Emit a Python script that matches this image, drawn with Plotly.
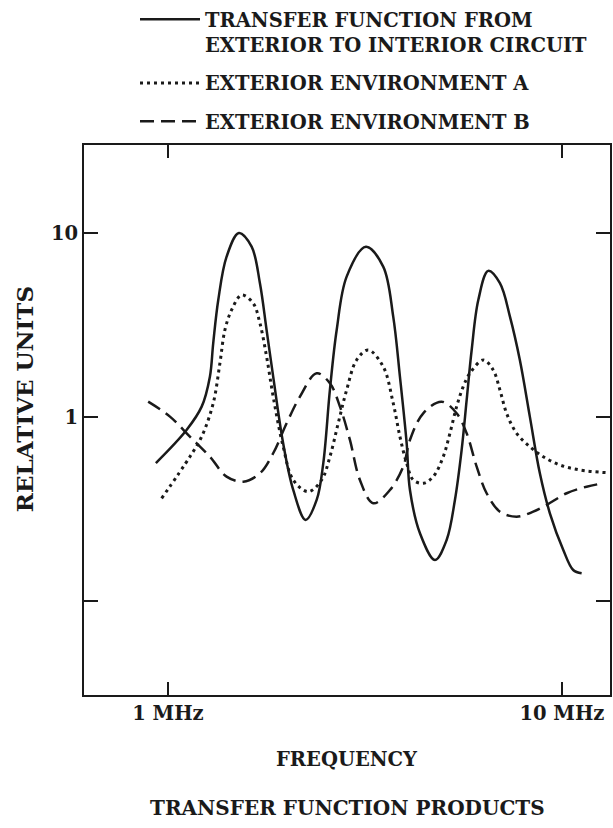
import plotly.graph_objects as go

# Frequency (MHz) and relative-unit values
transfer_f = [0.932, 1.115, 1.218, 1.278, 1.303, 1.342, 1.409, 1.514, 1.631, 1.712, 1.780,
              1.850, 1.961, 2.080, 2.236, 2.385, 2.479, 2.577, 2.681, 2.842, 3.181, 3.519,
              3.731, 3.880, 4.036, 4.114, 4.362, 4.762, 5.098, 5.351, 5.565, 5.731, 5.901,
              6.134, 6.50, 6.96, 7.38, 7.82, 8.29, 8.79, 9.32, 10.08, 10.68, 11.22]
transfer_v = [0.562, 0.850, 1.138, 1.656, 2.515, 4.32, 7.43, 10.0, 8.42, 5.33, 2.97,
              1.656, 0.719, 0.401, 0.2756, 0.354, 0.560, 1.402, 2.97, 5.79, 8.42, 6.56,
              3.51, 1.656, 0.719, 0.401, 0.2333, 0.167, 0.2146, 0.354, 0.662, 1.237, 2.312,
              4.32, 6.22, 5.33, 3.51, 2.04, 1.004, 0.494, 0.2997, 0.1893, 0.1474, 0.1414]

env_a_f = [0.964, 1.137, 1.218, 1.303, 1.355, 1.395, 1.451, 1.538, 1.646, 1.712, 1.780,
           1.850, 1.961, 2.080, 2.270, 2.455, 2.577, 2.705, 2.842, 3.012, 3.224, 3.519,
           3.731, 3.880, 4.036, 4.194, 4.446, 4.714, 4.997, 5.196, 5.404, 5.617, 5.841,
           6.316, 6.693, 6.96, 7.237, 7.674, 8.29, 8.966, 9.885, 11.11, 12.99]
env_a_v = [0.3615, 0.608, 0.782, 1.187, 1.958, 2.97, 3.815, 4.60, 4.15, 3.23, 2.127,
           1.289, 0.690, 0.4545, 0.3926, 0.4545, 0.608, 0.924, 1.402, 2.04, 2.312, 1.876,
           1.187, 0.782, 0.560, 0.4545, 0.436, 0.474, 0.608, 0.815, 1.138, 1.462, 1.728,
           2.04, 1.800, 1.402, 1.047, 0.815, 0.690, 0.608, 0.548, 0.515, 0.498]

env_b_f = [0.891, 1.012, 1.137, 1.278, 1.409, 1.553, 1.712, 1.850, 2.001, 2.163, 2.385,
           2.577, 2.733, 2.897, 3.071, 3.319, 3.660, 3.956, 4.114, 4.446, 4.951, 5.404,
           5.731, 6.076, 6.44, 6.96, 7.674, 8.457, 9.146, 10.28, 11.55, 12.73]
env_b_v = [1.211, 1.004, 0.782, 0.608, 0.474, 0.445, 0.494, 0.635, 0.924, 1.289, 1.728,
           1.525, 1.138, 0.750, 0.4545, 0.3396, 0.401, 0.537, 0.750, 1.047, 1.211, 1.047,
           0.815, 0.537, 0.385, 0.3057, 0.2872, 0.3057, 0.3325, 0.385, 0.418, 0.436]

x_tickvals = [1, 10]
x_ticktext = ["1 MHz", "10 MHz"]
y_tickvals = [0.1, 1, 10]
y_ticktext = ["", "1", "10"]

names = ["TRANSFER FUNCTION FROM<br>EXTERIOR TO INTERIOR CIRCUIT",
         "EXTERIOR ENVIRONMENT A",
         "EXTERIOR ENVIRONMENT B"]

FONT = "DejaVu Serif"
INK = "#1a1a1a"
FS = 19.5

fig = go.Figure()
fig.add_trace(go.Scatter(x=transfer_f, y=transfer_v, mode="lines", name=names[0],
                         legendgroup="a",
                         line=dict(color=INK, width=2.5, shape="spline", smoothing=1.0)))
fig.add_trace(go.Scatter(x=env_a_f, y=env_a_v, mode="lines", name=names[1],
                         legendgroup="b",
                         line=dict(color=INK, width=3, dash="3px,4px", shape="spline", smoothing=1.0)))
fig.add_trace(go.Scatter(x=env_b_f, y=env_b_v, mode="lines", name=names[2],
                         legendgroup="c",
                         line=dict(color=INK, width=2.5, dash="14px,7px", shape="spline", smoothing=1.0)))

fig.update_layout(
    width=613, height=828,
    margin=dict(l=84, r=3, t=145, b=133, autoexpand=False),
    paper_bgcolor="white", plot_bgcolor="white",
    font=dict(family=FONT, size=FS, color=INK, weight="bold"),
    showlegend=True,
    legend=dict(xref="container", yref="container", x=135 / 613, y=1 - 0 / 828,
                xanchor="left", yanchor="top", valign="top",
                traceorder="grouped", tracegroupgap=10, itemwidth=60,
                bgcolor="rgba(0,0,0,0)", font=dict(family=FONT, size=FS, color=INK, weight="bold")),
    xaxis=dict(type="log", range=[-0.213, 1.122], tickvals=x_tickvals, ticktext=x_ticktext,
               ticks="inside", ticklen=13, tickwidth=2, tickcolor=INK,
               showline=True, linewidth=2, linecolor=INK, mirror="ticks",
               showgrid=False, zeroline=False,
               tickfont=dict(family=FONT, size=FS, color=INK, weight="bold")),
    yaxis=dict(type="log", range=[-1.511, 1.478], tickvals=y_tickvals, ticktext=y_ticktext,
               ticks="inside", ticklen=14, tickwidth=2, tickcolor=INK,
               showline=True, linewidth=2, linecolor=INK, mirror="ticks",
               showgrid=False, zeroline=False,
               tickfont=dict(family=FONT, size=FS, color=INK, weight="bold")),
    annotations=[
        dict(text="RELATIVE UNITS", textangle=-90, xref="paper", yref="paper",
             x=-0.114, y=0.538, xanchor="center", yanchor="middle", showarrow=False,
             font=dict(family=FONT, size=23, color=INK, weight="bold")),
        dict(text="FREQUENCY", xref="paper", yref="paper",
             x=0.5, y=-0.118, xanchor="center", yanchor="middle", showarrow=False,
             font=dict(family=FONT, size=FS, color=INK, weight="bold")),
        dict(text="TRANSFER FUNCTION PRODUCTS", xref="paper", yref="paper",
             x=0.5, y=-0.205, xanchor="center", yanchor="middle", showarrow=False,
             font=dict(family=FONT, size=20, color=INK, weight="bold")),
    ],
)

fig.write_html("out.html")
